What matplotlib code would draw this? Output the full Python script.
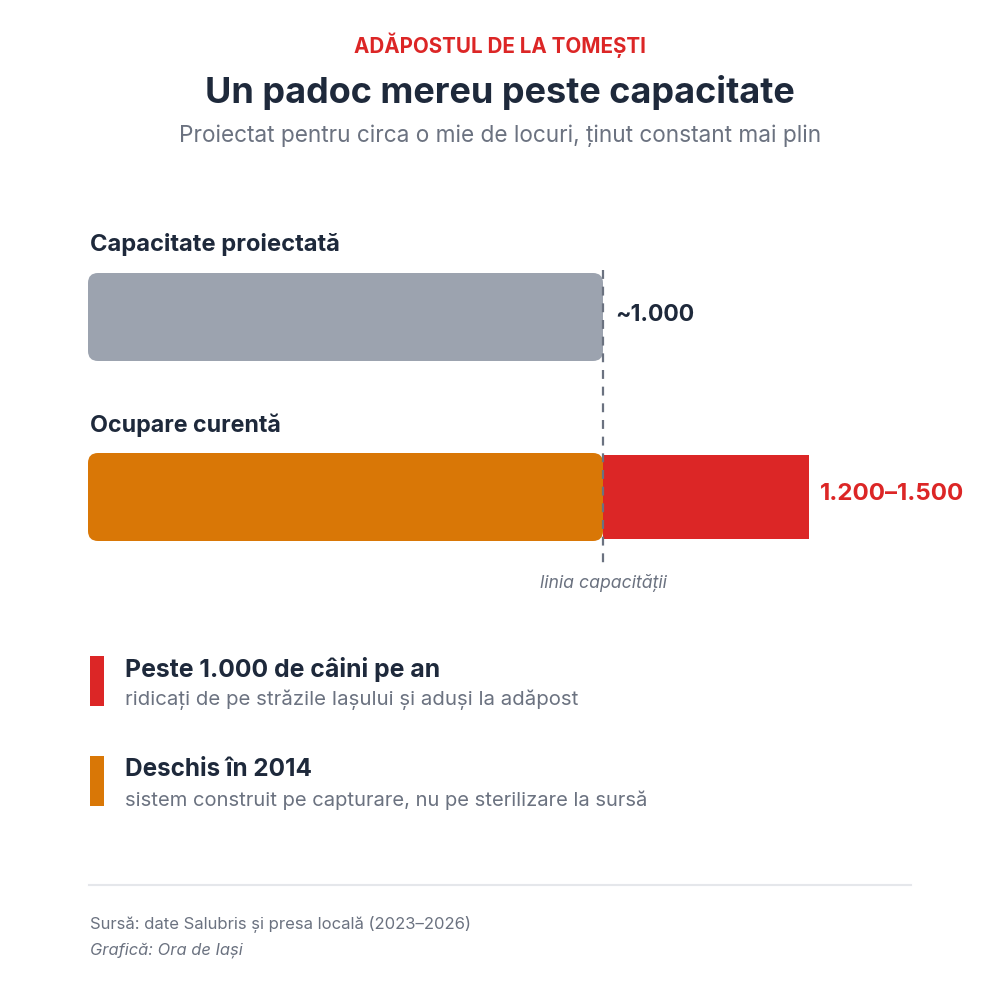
import matplotlib
matplotlib.use("Agg")
import matplotlib.pyplot as plt
from matplotlib.patches import FancyBboxPatch, Rectangle

plt.rcParams['font.family'] = ['Inter', 'DejaVu Sans']

# ---- data ----
categories = ["Capacitate proiectată", "Ocupare curentă"]
capacity = 1000
occupancy_low = 1200
occupancy_high = 1500
occupancy_bar = 1400   # drawn length of overflow bar
value_labels = ["~1.000", "1.200–1.500"]
facts_titles = ["Peste 1.000 de câini pe an", "Deschis în 2014"]
facts_subs = ["ridicați de pe străzile Iașului și aduși la adăpost",
              "sistem construit pe capturare, nu pe sterilizare la sursă"]

DARK = "#1e293b"
GRAY = "#6b7280"
RED = "#dc2626"
ORANGE = "#d97706"
BARGRAY = "#9ca3af"

W = H = 1000
fig = plt.figure(figsize=(10, 10), dpi=100)
fig.patch.set_facecolor("white")
renderer = fig.canvas.get_renderer()

def ftxt(x, y, s, target_w=None, size=12, **kw):
    t = fig.text(x / W, 1 - y / H, s, fontsize=size, **kw)
    if target_w:
        bb = t.get_window_extent(renderer=renderer)
        t.set_fontsize(size * target_w / bb.width)
    return t

# header
ftxt(500, 45, "ADĂPOSTUL DE LA TOMEȘTI", 292, color=RED, weight="bold", ha="center", va="center")
ftxt(500, 93, "Un padoc mereu peste capacitate", 588, color=DARK, weight="bold", ha="center", va="center")
ftxt(500, 136, "Proiectat pentru circa o mie de locuri, ținut constant mai plin", 644, color=GRAY, ha="center", va="center")

# bar axes: x pixel 88..988, y pixel 260..590
px_per_unit = 515 / capacity
ax = fig.add_axes([88 / W, 1 - 590 / H, 900 / W, 330 / H])
ax.set_xlim(0, 900 / px_per_unit)
ax.set_ylim(590, 260)
ax.axis("off")

aspect = px_per_unit  # y units (px) per x unit
r = 10 / px_per_unit
ys = [317, 497]
ax.add_patch(FancyBboxPatch((0, ys[0] - 44), capacity, 88,
                            boxstyle=f"round,pad=0,rounding_size={r}",
                            mutation_aspect=aspect, fc=BARGRAY, ec="none"))
ax.add_patch(Rectangle((capacity, ys[1] - 42), occupancy_bar - capacity, 84, fc=RED, ec="none"))
ax.add_patch(FancyBboxPatch((0, ys[1] - 44), capacity, 88,
                            boxstyle=f"round,pad=0,rounding_size={r}",
                            mutation_aspect=aspect, fc=ORANGE, ec="none"))
ax.plot([capacity, capacity], [270, 568], color=GRAY, lw=1.6, ls=(0, (4, 3.5)), zorder=5)

# labels
ftxt(90, 244, categories[0], 248, color=DARK, weight="bold", ha="left", va="center")
ftxt(90, 425, categories[1], 190, color=DARK, weight="bold", ha="left", va="center")
ftxt(615, 315, value_labels[0], 80, color=DARK, weight="bold", ha="left", va="center")
ftxt(820, 494, value_labels[1], 145, color=RED, weight="bold", ha="left", va="center")
ftxt(603, 583, "linia capacității", 127, color=GRAY, style="italic", ha="center", va="center")

# facts
for i, (tt, ss, col) in enumerate(zip(facts_titles, facts_subs, [RED, ORANGE])):
    y0 = 656 + 100 * i
    fig.add_artist(Rectangle((90 / W, 1 - (y0 + 50) / H), 14 / W, 50 / H,
                             transform=fig.transFigure, fc=col, ec="none"))
    ftxt(125, y0 + 14, tt, [315, 187][i], color=DARK, weight="bold", ha="left", va="center")
    ftxt(125, y0 + 44, ss, [452, 523][i], color=GRAY, ha="left", va="center")

# footer
fig.add_artist(plt.Line2D([89 / W, 911 / W], [1 - 885 / H, 1 - 885 / H],
                          transform=fig.transFigure, color="#e5e7eb", lw=1.5))
ftxt(90, 924, "Sursă: date Salubris și presa locală (2023–2026)", 382, color=GRAY, ha="left", va="center")
ftxt(90, 950, "Grafică: Ora de Iași", 153, color=GRAY, style="italic", ha="left", va="center")

fig.savefig("out.png", dpi=100, facecolor="white")
